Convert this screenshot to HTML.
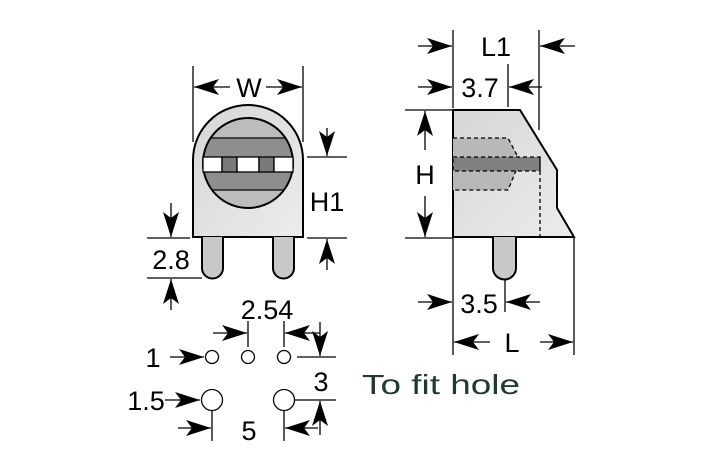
<!DOCTYPE html>
<html><head><meta charset="utf-8"><style>
html,body{margin:0;padding:0;background:#fff;}
svg{display:block;font-family:"Liberation Sans",sans-serif;}
</style></head><body>
<svg width="709" height="472" viewBox="0 0 709 472" xmlns="http://www.w3.org/2000/svg">
<defs>
<marker id="a" markerWidth="26" markerHeight="16" refX="25" refY="8" orient="auto" markerUnits="userSpaceOnUse">
<path d="M0,0 L25,8 L0,16 L6,8 Z" fill="#000"/>
</marker>
<linearGradient id="g" x1="0" y1="0" x2="1" y2="1"><stop offset="0" stop-color="#d6d6d6"/><stop offset="1" stop-color="#ececec"/></linearGradient>
<clipPath id="c"><circle cx="248" cy="163" r="45"/></clipPath>
</defs>
<g stroke="#000" stroke-width="1.3" fill="none">
<!-- FRONT VIEW -->
<path d="M193,237 L193,160 A55,55 0 0 1 303,160 L303,237 Z" fill="url(#g)" stroke-width="2"/>
<path d="M202,237 L202,268 A10.5,10.5 0 0 0 223,268 L223,237" fill="#c8c8c8" stroke-width="2"/>
<path d="M273,237 L273,268 A10.5,10.5 0 0 0 294,268 L294,237" fill="#c8c8c8" stroke-width="2"/>
<circle cx="248" cy="163" r="45" fill="#bcbcbc"/>
<g clip-path="url(#c)">
<rect x="200" y="138" width="96" height="19" fill="#8e8e8e" stroke="none"/>
<rect x="200" y="172" width="96" height="18" fill="#8e8e8e" stroke="none"/>
<line x1="200" y1="138" x2="296" y2="138"/><line x1="200" y1="190" x2="296" y2="190"/>
</g>
<circle cx="248" cy="163" r="45" stroke-width="2"/>
<rect x="203" y="157" width="19" height="15" fill="#fff"/>
<rect x="222" y="157" width="15" height="15" fill="#7a7a7a"/>
<rect x="237" y="157" width="22" height="15" fill="#fff"/>
<rect x="259" y="157" width="15" height="15" fill="#7a7a7a"/>
<rect x="274" y="157" width="19" height="15" fill="#fff"/>
<!-- W -->
<line x1="193" y1="66" x2="193" y2="142"/><line x1="303" y1="66" x2="303" y2="142"/>
<line x1="230" y1="87" x2="194" y2="87" marker-end="url(#a)"/>
<line x1="266" y1="87" x2="302" y2="87" marker-end="url(#a)"/>
<!-- H1 -->
<line x1="307" y1="157" x2="347" y2="157"/><line x1="307" y1="238" x2="347" y2="238"/>
<line x1="327" y1="128" x2="327" y2="156" marker-end="url(#a)"/>
<line x1="327" y1="270" x2="327" y2="239" marker-end="url(#a)"/>
<!-- 2.8 -->
<line x1="147" y1="238" x2="190" y2="238"/><line x1="147" y1="278" x2="202" y2="278"/>
<line x1="171" y1="203" x2="171" y2="237" marker-end="url(#a)"/>
<line x1="171" y1="310" x2="171" y2="279" marker-end="url(#a)"/>
<!-- SIDE VIEW -->
<path d="M453,110 L520,110 L557,170 L557,208 L574,237 L453,237 Z" fill="url(#g)" stroke-width="2"/>
<path d="M453,138 L508,138 L520,161 L508,190 L453,190" fill="#b8b8b8" stroke-dasharray="4,3"/>
<rect x="453" y="157" width="87" height="14" fill="#808080" stroke-dasharray="4,3"/>
<line x1="540" y1="157" x2="540" y2="237" stroke-dasharray="4,3"/>
<path d="M493,237 L493,268 A11.5,11.5 0 0 0 516,268 L516,237" fill="#c8c8c8" stroke-width="2"/>
<line x1="453" y1="30" x2="453" y2="108"/><line x1="539" y1="30" x2="539" y2="130"/>
<line x1="418" y1="46" x2="452" y2="46" marker-end="url(#a)"/>
<line x1="575" y1="46" x2="540" y2="46" marker-end="url(#a)"/>
<line x1="508" y1="64" x2="508" y2="107"/>
<line x1="418" y1="87" x2="452" y2="87" marker-end="url(#a)"/>
<line x1="542" y1="87" x2="509" y2="87" marker-end="url(#a)"/>
<line x1="405" y1="110" x2="453" y2="110"/><line x1="405" y1="238" x2="453" y2="238"/>
<line x1="425" y1="150" x2="425" y2="111" marker-end="url(#a)"/>
<line x1="425" y1="196" x2="425" y2="237" marker-end="url(#a)"/>
<line x1="453" y1="238" x2="453" y2="355"/><line x1="574" y1="238" x2="574" y2="355"/>
<line x1="505" y1="280" x2="505" y2="312"/>
<line x1="418" y1="302" x2="452" y2="302" marker-end="url(#a)"/>
<line x1="540" y1="302" x2="506" y2="302" marker-end="url(#a)"/>
<line x1="490" y1="342" x2="454" y2="342" marker-end="url(#a)"/>
<line x1="540" y1="342" x2="573" y2="342" marker-end="url(#a)"/>
<!-- HOLES -->
<circle cx="212" cy="357" r="6.5" fill="#fff"/>
<circle cx="248" cy="357" r="6.5" fill="#fff"/>
<circle cx="284" cy="357" r="6.5" fill="#fff"/>
<circle cx="212" cy="400" r="10.5" fill="#fff"/>
<circle cx="284" cy="400" r="10.5" fill="#fff"/>
<line x1="170" y1="357" x2="204" y2="357" marker-end="url(#a)"/>
<line x1="165" y1="400" x2="200" y2="400" marker-end="url(#a)"/>
<line x1="248" y1="321" x2="248" y2="347"/><line x1="284" y1="321" x2="284" y2="347"/>
<line x1="213" y1="333" x2="247" y2="333" marker-end="url(#a)"/>
<line x1="320" y1="333" x2="285" y2="333" marker-end="url(#a)"/>
<line x1="297" y1="357" x2="336" y2="357"/><line x1="295" y1="400" x2="336" y2="400"/>
<line x1="320" y1="322" x2="320" y2="356" marker-end="url(#a)"/>
<line x1="320" y1="435" x2="320" y2="401" marker-end="url(#a)"/>
<line x1="212" y1="411" x2="212" y2="441"/><line x1="284" y1="411" x2="284" y2="441"/>
<line x1="178" y1="428" x2="211" y2="428" marker-end="url(#a)"/>
<line x1="318" y1="428" x2="285" y2="428" marker-end="url(#a)"/>
</g>
<g font-size="27" fill="#000" text-anchor="middle">
<text x="249" y="97">W</text>
<text x="327" y="211">H1</text>
<text x="171" y="269">2.8</text>
<text x="496" y="56">L1</text>
<text x="480" y="97">3.7</text>
<text x="425" y="184">H</text>
<text x="479" y="313">3.5</text>
<text x="512" y="352">L</text>
<text x="267" y="319">2.54</text>
<text x="153" y="367">1</text>
<text x="146" y="410">1.5</text>
<text x="321" y="391">3</text>
<text x="249" y="440">5</text>
</g>
<text x="362" y="394" font-size="28" fill="#1f3a2e" textLength="158" lengthAdjust="spacingAndGlyphs">To fit hole</text>
</svg>
</body></html>
